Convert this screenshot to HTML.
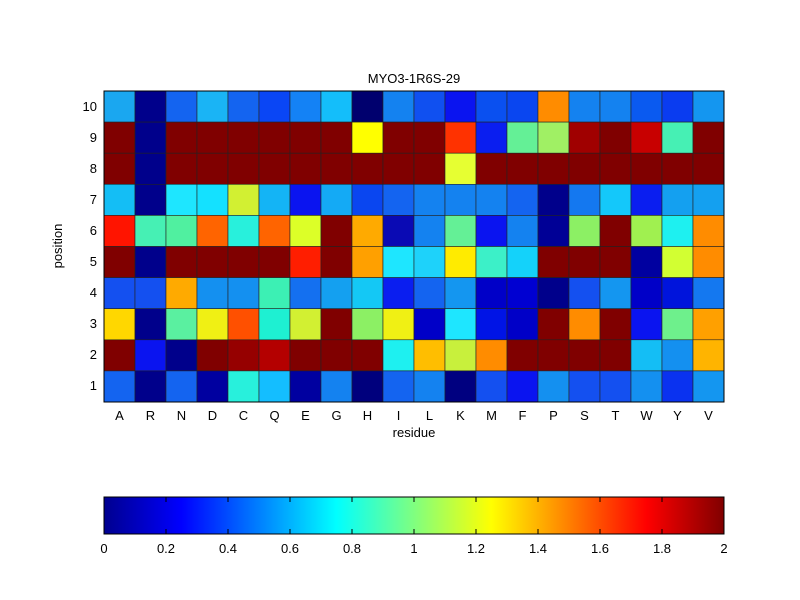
<!DOCTYPE html>
<html><head><meta charset="utf-8"><style>
html,body{margin:0;padding:0;background:#fff;}
svg{display:block;font-family:"Liberation Sans",Arial,sans-serif;}
</style></head><body>
<svg id="s" width="800" height="600" viewBox="0 0 800 600" xmlns="http://www.w3.org/2000/svg">
<defs>
<linearGradient id="jet" x1="0" x2="1" y1="0" y2="0">
<stop offset="0" stop-color="#00008f"/>
<stop offset="0.125" stop-color="#0000ff"/>
<stop offset="0.375" stop-color="#00ffff"/>
<stop offset="0.625" stop-color="#ffff00"/>
<stop offset="0.875" stop-color="#ff0000"/>
<stop offset="1" stop-color="#800000"/>
</linearGradient>
</defs>
<g id="grid"></g>
<rect x="104" y="91" width="620" height="311" fill="none" stroke="#000" stroke-width="1"/>
<text x="414" y="83" font-size="13" text-anchor="middle">MYO3-1R6S-29</text>
<g font-size="13" text-anchor="end">
<text x="97" y="111">10</text><text x="97" y="142">9</text><text x="97" y="173">8</text><text x="97" y="204">7</text><text x="97" y="235">6</text><text x="97" y="266">5</text><text x="97" y="297">4</text><text x="97" y="328">3</text><text x="97" y="359">2</text><text x="97" y="390">1</text>
</g>
<g font-size="13" text-anchor="middle">
<text x="119.5" y="420">A</text><text x="150.5" y="420">R</text><text x="181.5" y="420">N</text><text x="212.5" y="420">D</text><text x="243.5" y="420">C</text><text x="274.5" y="420">Q</text><text x="305.5" y="420">E</text><text x="336.5" y="420">G</text><text x="367.5" y="420">H</text><text x="398.5" y="420">I</text><text x="429.5" y="420">L</text><text x="460.5" y="420">K</text><text x="491.5" y="420">M</text><text x="522.5" y="420">F</text><text x="553.5" y="420">P</text><text x="584.5" y="420">S</text><text x="615.5" y="420">T</text><text x="646.5" y="420">W</text><text x="677.5" y="420">Y</text><text x="708.5" y="420">V</text>
</g>
<text x="414" y="437" font-size="13" text-anchor="middle">residue</text>
<text x="0" y="0" font-size="13" text-anchor="middle" transform="translate(62,246) rotate(-90)">position</text>
<rect x="104" y="497" width="620" height="37" fill="url(#jet)" stroke="#000" stroke-width="1"/>
<g stroke="#000" stroke-width="1" id="cbt"></g>
<g font-size="13" text-anchor="middle">
<text x="104" y="553">0</text><text x="166" y="553">0.2</text><text x="228" y="553">0.4</text><text x="290" y="553">0.6</text><text x="352" y="553">0.8</text><text x="414" y="553">1</text><text x="476" y="553">1.2</text><text x="538" y="553">1.4</text><text x="600" y="553">1.6</text><text x="662" y="553">1.8</text><text x="724" y="553">2</text>
</g>
</svg>
<script>
var D="#800000",N="#00008b";
var rows=[
["#1aa7f0",N,"#1464f0","#1ab4f5","#1464f0","#0a46f5","#1482f5","#14befa","#00006e","#1482f0","#1050f0","#0a14f0","#0a50f0","#0a46f0","#ff8c00","#1482f0","#1482f0","#0a5af0","#0a3cf0","#1496f0"],
[D,N,D,D,D,D,D,D,"#ffff00",D,D,"#ff3200","#0a1ef0","#64f096","#a0f064","#a00000",D,"#c80000","#46f0b4",D],
[D,N,D,D,D,D,D,D,D,D,D,"#e6ff32",D,D,D,D,D,D,D,D],
["#14bef5",N,"#1ee6ff","#14e1ff","#d2f032","#14b4f5","#0a14f0","#14aaf5","#0a46f0","#1464f0","#1482f0","#1482f0","#1482f0","#1464f0",N,"#1478f0","#14c8fa","#0a1ef0","#14a0f0","#14a0f0"],
["#ff1400","#46f0b4","#50f0a0","#ff6400","#28f0dc","#ff6400","#dcff28",D,"#ffaa00","#0a0ab4","#1482f0","#64f096","#0a14f0","#1482f0","#000096","#8cf064",D,"#a0f050","#1ef0f0","#ff8c00"],
[D,N,D,D,D,D,"#ff1e00",D,"#ffa000","#1ee6ff","#1ed2fa","#ffeb00","#3cf0c8","#14d2fa",D,D,D,"#0000a0","#d2ff32","#ff8c00"],
["#1450f0","#1450f0","#ffaa00","#1490f0","#1490f0","#3cf0b4","#1470f0","#14a0f0","#14c8f5","#0a1ef0","#1464f0","#1496f0","#0000c8","#0000d2",N,"#1450f0","#1496f0","#0000c8","#0014dc","#1478f0"],
["#ffd700",N,"#5af0a0","#f0f014","#ff5000","#1ef0d2","#d2f032",D,"#8cf064","#f0f014","#0000c8","#1ee6ff","#0014e6","#0000c8",D,"#ff8c00",D,"#0a14f0","#6ef08c","#ffa000"],
[D,"#0a14f0",N,D,"#960000","#b40000",D,D,D,"#1ef0f0","#ffbe00","#c8f03c","#ff8c00",D,D,D,D,"#14bef5","#1490f0","#ffb400"],
["#1464f0",N,"#1464f0","#0000a0","#28f0dc","#14beff","#0000a0","#1482f0","#00007d","#1464f0","#1482f0","#000080","#1450f0","#0a14f0","#1490f0","#1450f0","#1450f0","#1490f0","#0a32f0","#1496f0"]];
var g=document.getElementById("grid"),ns="http://www.w3.org/2000/svg",h="";
for(var r=0;r<10;r++)for(var c=0;c<20;c++){
h+='<rect x="'+(104+c*31)+'" y="'+(91+r*31.1)+'" width="31" height="31.1" fill="'+rows[r][c]+'" stroke="#222" stroke-width="0.6"/>';}
g.innerHTML=h;
var t="";for(var i=1;i<10;i++){var x=104+i*62;t+='<line x1="'+x+'" y1="497" x2="'+x+'" y2="502"/><line x1="'+x+'" y1="529" x2="'+x+'" y2="534"/>';}
document.getElementById("cbt").innerHTML=t;
</script>
</body></html>
